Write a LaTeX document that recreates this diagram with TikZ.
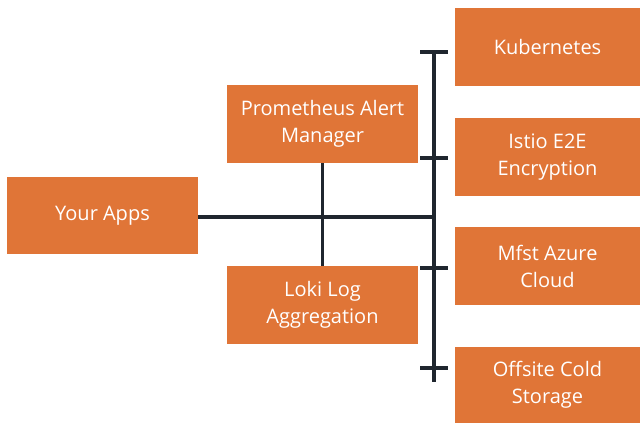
\documentclass[tikz,border=0pt]{standalone}
\usepackage{fontspec}
\setmainfont{Open Sans}
\usepackage{tikz}

\definecolor{boxorange}{HTML}{E07537}
\definecolor{busdark}{HTML}{1F262E}

\begin{document}
\begin{tikzpicture}[x=1pt, y=-1pt,
    box/.style={fill=boxorange, text=white, align=center, inner sep=0pt,
      font=\fontsize{20}{27}\selectfont},
    bus/.style={draw=busdark, line width=3.6pt}]
  \useasboundingbox (0,0) rectangle (640,423);

  % Left and middle boxes
  \node[box, minimum width=191pt, minimum height=77pt] (apps) at (102.5,215.5) {Your Apps};
  \node[box, minimum width=191pt, minimum height=78pt] (prom) at (322.5,124) {Prometheus Alert\\Manager};
  \node[box, minimum width=191pt, minimum height=78pt] (loki) at (322.5,305) {Loki Log\\Aggregation};

  % Right boxes
  \node[box, minimum width=185pt, minimum height=78pt] (kube) at (547.5,47) {Kubernetes};
  \node[box, minimum width=185pt, minimum height=78pt] (istio) at (547.5,157) {Istio E2E\\Encryption};
  \node[box, minimum width=185pt, minimum height=78pt] (mfst) at (547.5,266) {Mfst Azure\\Cloud};
  \node[box, minimum width=185pt, minimum height=76pt] (off) at (547.5,385) {Offsite Cold\\Storage};

  % Bus with ticks
  \coordinate (bustop) at (434,51);
  \coordinate (busbot) at (434,382);
  \coordinate (hub) at (434,217);
  \draw[bus] (bustop) -- (busbot);
  \foreach \y in {52,158,268,368}
    \draw[bus] (420,\y) -- (448,\y);

  % Connectors
  \draw[bus] (apps.east |- hub) -- (hub);
  \draw[bus] (prom.south) -- (loki.north);
\end{tikzpicture}
\end{document}
